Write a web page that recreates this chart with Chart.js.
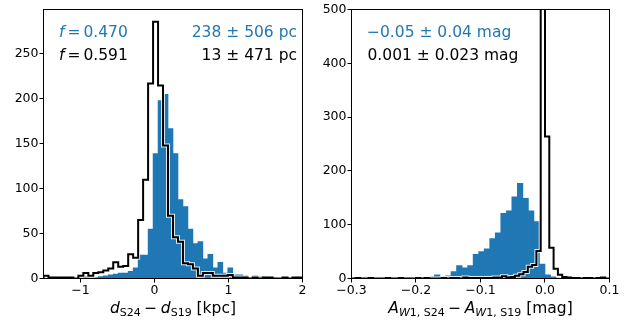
<!DOCTYPE html>
<html>
<head>
<meta charset="utf-8">
<script src="https://cdn.jsdelivr.net/npm/chart.js@4.4.1/dist/chart.umd.min.js"></script>
<style>
  html, body { margin: 0; padding: 0; background: #fff; }
  #wrap { position: relative; width: 633px; height: 322px; }
  #cLeft { position: absolute; left: 0; top: 0; }
  #cRight { position: absolute; left: 316px; top: 0; }
</style>
</head>
<body>
<div id="wrap">
  <canvas id="cLeft" width="316" height="322"></canvas>
  <canvas id="cRight" width="317" height="322"></canvas>
</div>
<script>
// ---- left panel: d_S24 - d_S19 (kpc), 52 bins over [-1.5, 2]
const distBinStart = -1.5;
const distBinWidth = 3.5 / 52;
const distCountsFilled = [0, 0, 0, 0, 0, 0, 0, 1, 2, 1,
  1, 2, 3, 4, 5, 6, 6, 8, 12, 26,
  26, 55, 139, 198, 205, 167, 139, 88, 80, 55,
  39, 41, 22, 27, 12, 18, 6, 12, 4, 4,
  3, 1, 3, 2, 2, 1, 1, 0, 1, 0,
  1, 0];
const distCountsStep = [3, 1, 1, 1, 1, 1, 0, 3, 6, 3,
  6, 7, 9, 11, 18, 13, 14, 27, 23, 65,
  110, 217, 286, 215, 148, 70, 46, 41, 17, 16,
  11, 3, 6, 6, 3, 3, 3, 4, 1, 1,
  1, 0, 1, 0, 1, 1, 0, 0, 1, 0,
  1, 1];
const distTicks = [-1, 0, 1, 2];
const distCountTicks = [0, 50, 100, 150, 200, 250];

// ---- right panel: A_W1,S24 - A_W1,S19 (mag)
const extBinStartFilled = -0.3;
const extBinWidthFilled = 0.3 / 35;
const extCountsFilled = [0, 0, 1, 2, 1, 0, 1, 1, 1, 0,
  2, 0, 1, 2, 3, 7, 4, 5, 13, 24,
  20, 24, 45, 50, 55, 74, 85, 121, 126, 152,
  177, 149, 126, 106, 27, 7, 3, 1, 1, 0,
  1, 0, 0, 1, 0, 0, 0];
const extBinStartStep = -0.3;
const extBinWidthStep = 0.4 / 60;
const extCountsStep = [0, 1, 0, 0, 1, 0, 0, 0, 1, 0,
  0, 1, 0, 0, 0, 1, 0, 1, 0, 0,
  0, 1, 0, 1, 1, 0, 2, 1, 1, 1,
  1, 1, 1, 2, 2, 4, 2, 3, 5, 8,
  12, 22, 25, 51, 920, 264, 57, 18, 7, 3,
  2, 1, 1, 0, 1, 1, 0, 1, 2, 0];
const extTicks = [-0.3, -0.2, -0.1, 0.0, 0.1];
const extCountTicks = [0, 100, 200, 300, 400, 500];

const blue = '#1f77b4';
const fam = "'DejaVu Sans', sans-serif";

function histBars(start, width, counts) {
  return counts.map((c, i) => ({ x: start + (i + 0.5) * width, y: c }));
}

function histStep(start, width, counts) {
  const pts = [{ x: start, y: 0 }];
  counts.forEach((c, i) => pts.push({ x: start + i * width, y: c }));
  const end = start + counts.length * width;
  pts.push({ x: end, y: counts[counts.length - 1] });
  pts.push({ x: end, y: 0 });
  return pts;
}

function fmt(v, digits) {
  return v.toFixed(digits).replace('-', '\u2212');
}

function runFont(r) {
  return (r.it ? 'italic ' : '') + (r.size || 15.5) + 'px ' + fam;
}

function drawRuns(ctx, runs, x, y, align, color) {
  let w = 0;
  runs.forEach(r => {
    ctx.font = runFont(r);
    r.w = ctx.measureText(r.t).width;
    w += r.w + (r.gap || 0);
  });
  let cx = align === 'right' ? x - w : align === 'center' ? x - w / 2 : x;
  ctx.fillStyle = color;
  ctx.textAlign = 'left';
  ctx.textBaseline = 'alphabetic';
  runs.forEach(r => {
    ctx.font = runFont(r);
    ctx.fillText(r.t, cx, y + (r.dy || 0));
    cx += r.w + (r.gap || 0);
  });
}

// frame on all four sides, text notes and the x label
const panelDecor = {
  id: 'panelDecor',
  afterDraw(chart, args, opts) {
    const ctx = chart.ctx;
    const a = chart.chartArea;
    ctx.save();
    ctx.strokeStyle = '#000';
    ctx.lineWidth = 1;
    ctx.strokeRect(a.left, a.top, a.right - a.left, a.bottom - a.top);
    (opts.notes || []).forEach(n => drawRuns(ctx, n.runs, n.x, n.y, n.align, n.color));
    drawRuns(ctx, opts.xlabel, (a.left + a.right) / 2, 313, 'center', '#000');
    ctx.restore();
  }
};

function makePanel(id, cfg) {
  const tickFont = { family: fam, size: 12.5 };
  return new Chart(document.getElementById(id), {
    type: 'bar',
    data: {
      datasets: [
        {
          type: 'line', data: cfg.step, stepped: 'before',
          borderColor: '#000', borderWidth: 2, pointRadius: 0, fill: false, clip: 0
        },
        {
          type: 'line', data: cfg.step, stepped: 'before',
          borderColor: 'rgba(255,255,255,0.85)', borderWidth: 4, pointRadius: 0, fill: false, clip: 0
        },
        {
          type: 'bar', data: cfg.bars, backgroundColor: blue, borderWidth: 0,
          barPercentage: 1, categoryPercentage: 1
        }
      ]
    },
    options: {
      responsive: false,
      animation: false,
      devicePixelRatio: 1,
      layout: { padding: { top: 9.5, right: cfg.padRight, left: 0, bottom: 0 } },
      plugins: {
        legend: { display: false },
        tooltip: { enabled: false },
        panelDecor: { notes: cfg.notes, xlabel: cfg.xlabel }
      },
      scales: {
        x: {
          type: 'linear', min: cfg.xmin, max: cfg.xmax, offset: false,
          grid: { display: true, drawOnChartArea: false, offset: false, tickLength: 4, tickColor: '#000' },
          border: { display: true, color: '#000' },
          ticks: { font: tickFont, color: '#000', padding: 1, maxRotation: 0, autoSkip: false,
                   callback: v => fmt(v, cfg.xdigits) },
          afterBuildTicks: s => { s.ticks = cfg.xticks.map(v => ({ value: v })); },
          afterFit: s => { s.height = 322 - 278.5; }
        },
        y: {
          min: 0, max: cfg.ymax,
          grid: { display: true, drawOnChartArea: false, tickLength: 4, tickColor: '#000' },
          border: { display: true, color: '#000' },
          ticks: { font: tickFont, color: '#000', padding: 1, callback: v => fmt(v, 0) },
          afterBuildTicks: s => { s.ticks = cfg.yticks.map(v => ({ value: v })); },
          afterFit: s => { s.width = cfg.left; }
        }
      }
    },
    plugins: [panelDecor]
  });
}

makePanel('cLeft', {
  bars: histBars(distBinStart, distBinWidth, distCountsFilled),
  step: histStep(distBinStart, distBinWidth, distCountsStep),
  xmin: -1.5, xmax: 2, xticks: distTicks, xdigits: 0,
  ymax: 299.5, yticks: distCountTicks,
  left: 43.5, padRight: 13.5,
  notes: [
    { runs: [{ t: 'f', it: true, gap: 3 }, { t: '=', gap: 3 }, { t: '0.470' }], x: 59, y: 37, align: 'left', color: blue },
    { runs: [{ t: 'f', it: true, gap: 3 }, { t: '=', gap: 3 }, { t: '0.591' }], x: 59, y: 60, align: 'left', color: '#000' },
    { runs: [{ t: '238 \u00b1 506 pc' }], x: 297, y: 37, align: 'right', color: blue },
    { runs: [{ t: '13 \u00b1 471 pc' }], x: 297, y: 60, align: 'right', color: '#000' }
  ],
  xlabel: [
    { t: 'd', it: true }, { t: 'S24', size: 11, dy: 3, gap: 3.5 },
    { t: '\u2212', gap: 3.5 },
    { t: 'd', it: true }, { t: 'S19', size: 11, dy: 3 },
    { t: ' [kpc]' }
  ]
});

makePanel('cRight', {
  bars: histBars(extBinStartFilled, extBinWidthFilled, extCountsFilled),
  step: histStep(extBinStartStep, extBinWidthStep, extCountsStep),
  xmin: -0.3, xmax: 0.1, xticks: extTicks, xdigits: 1,
  ymax: 500, yticks: extCountTicks,
  left: 35.5, padRight: 23.5,
  notes: [
    { runs: [{ t: '\u22120.05 \u00b1 0.04 mag' }], x: 51, y: 37, align: 'left', color: blue },
    { runs: [{ t: '0.001 \u00b1 0.023 mag' }], x: 51.5, y: 60, align: 'left', color: '#000' }
  ],
  xlabel: [
    { t: 'A', it: true }, { t: 'W', it: true, size: 11, dy: 3 }, { t: '1, S24', size: 11, dy: 3, gap: 3.5 },
    { t: '\u2212', gap: 3.5 },
    { t: 'A', it: true }, { t: 'W', it: true, size: 11, dy: 3 }, { t: '1, S19', size: 11, dy: 3 },
    { t: ' [mag]' }
  ]
});
</script>
</body>
</html>
